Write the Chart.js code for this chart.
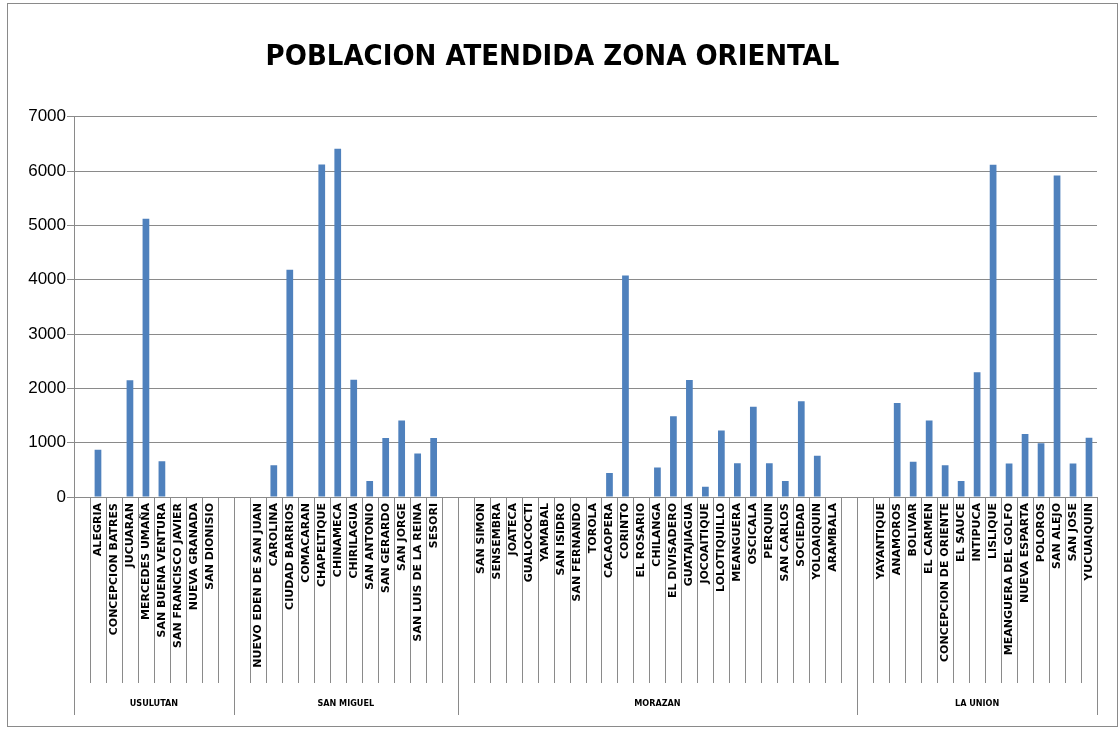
<!DOCTYPE html>
<html>
<head>
<meta charset="utf-8">
<title>Poblacion atendida zona oriental</title>
<script src="https://cdn.jsdelivr.net/npm/chart.js@4"></script>
<style>
  body { margin: 0; background: #fff; }
  canvas { display: block; }
</style>
</head>
<body>
<canvas id="poblacionChart" width="1119" height="730"></canvas>
<script>
// Departamentos (grupos del eje X)
const departamentos = ['USULUTAN', 'SAN MIGUEL', 'MORAZAN', 'LA UNION'];

// Municipios por departamento ('' = columna vacia en la hoja original)
const municipiosUsulutan = ['', 'ALEGRIA', 'CONCEPCION BATRES', 'JUCUARAN', 'MERCEDES UMAÑA', 'SAN BUENA VENTURA',
    'SAN FRANCISCO JAVIER', 'NUEVA GRANADA', 'SAN DIONISIO', ''];
const municipiosSanMiguel = ['', 'NUEVO EDEN DE SAN JUAN', 'CAROLINA', 'CIUDAD BARRIOS', 'COMACARAN', 'CHAPELTIQUE',
    'CHINAMECA', 'CHIRILAGUA', 'SAN ANTONIO', 'SAN GERARDO', 'SAN JORGE', 'SAN LUIS DE LA REINA', 'SESORI', ''];
const municipiosMorazan = ['', 'SAN SIMON', 'SENSEMBRA', 'JOATECA', 'GUALOCOCTI', 'YAMABAL', 'SAN ISIDRO', 'SAN FERNANDO',
    'TOROLA', 'CACAOPERA', 'CORINTO', 'EL ROSARIO', 'CHILANGA', 'EL DIVISADERO', 'GUATAJIAGUA', 'JOCOAITIQUE',
    'LOLOTIQUILLO', 'MEANGUERA', 'OSCICALA', 'PERQUIN', 'SAN CARLOS', 'SOCIEDAD', 'YOLOAIQUIN', 'ARAMBALA', ''];
const municipiosLaUnion = ['', 'YAYANTIQUE', 'ANAMOROS', 'BOLIVAR', 'EL CARMEN', 'CONCEPCION DE ORIENTE', 'EL SAUCE',
    'INTIPUCA', 'LISLIQUE', 'MEANGUERA DEL GOLFO', 'NUEVA ESPARTA', 'POLOROS', 'SAN ALEJO', 'SAN JOSE', 'YUCUAIQUIN'];

// Poblacion atendida por municipio
const poblacionUsulutan = [0, 870, 0, 2150, 5125, 660, 0, 0, 0, 0];
const poblacionSanMiguel = [0, 0, 585, 4185, 0, 6120, 6410, 2160, 295, 1085, 1410, 800, 1085, 0];
const poblacionMorazan = [0, 0, 0, 0, 0, 0, 0, 0, 0, 440, 4080, 0, 545, 1485, 2155, 190, 1225, 620, 1660, 620, 295,
    1765, 760, 0, 0];
const poblacionLaUnion = [0, 0, 1730, 650, 1410, 585, 295, 2295, 6115, 615, 1160, 990, 5920, 615, 1090];

// Ticks del eje Y
const ejeYMin = 0;
const ejeYMax = 7000;
const ejeYPaso = 1000;

const gruposMunicipios = [municipiosUsulutan, municipiosSanMiguel, municipiosMorazan, municipiosLaUnion];
const etiquetas = [].concat(...gruposMunicipios);
const valores = [].concat(poblacionUsulutan, poblacionSanMiguel, poblacionMorazan, poblacionLaUnion);

const colorLinea = '#8a8a8a';

// Fondo blanco y marco del grafico
const marcoGrafico = {
    id: 'marcoGrafico',
    beforeDraw(chart) {
        const ctx = chart.ctx;
        ctx.save();
        ctx.fillStyle = '#ffffff';
        ctx.fillRect(0, 0, chart.width, chart.height);
        ctx.strokeStyle = colorLinea;
        ctx.lineWidth = 1;
        ctx.strokeRect(7.5, 3.5, chart.width - 9, chart.height - 7);
        ctx.restore();
    }
};

// Separadores de municipios y nombres de departamentos debajo del eje X
const gruposDepartamento = {
    id: 'gruposDepartamento',
    afterDraw(chart) {
        const escala = chart.scales.x;
        const ctx = chart.ctx;
        const inicios = [];
        let acumulado = 0;
        gruposMunicipios.forEach(function (g) {
            inicios.push(acumulado);
            acumulado += g.length;
        });
        const total = etiquetas.length;

        ctx.save();
        ctx.strokeStyle = colorLinea;
        ctx.lineWidth = 1;
        for (let i = 0; i <= total; i++) {
            const px = Math.round(escala.getPixelForValue(i - 0.5)) + 0.5;
            const esGrupo = inicios.includes(i) || i === total;
            ctx.beginPath();
            ctx.moveTo(px, escala.top);
            ctx.lineTo(px, esGrupo ? escala.bottom + 32 : escala.bottom);
            ctx.stroke();
        }

        ctx.fillStyle = '#000';
        ctx.font = 'bold 9px "DejaVu Sans Condensed", "DejaVu Sans", sans-serif';
        ctx.textAlign = 'center';
        ctx.textBaseline = 'middle';
        departamentos.forEach(function (nombre, k) {
            const desde = inicios[k];
            const hasta = desde + gruposMunicipios[k].length;
            const centro = (escala.getPixelForValue(desde - 0.5) + escala.getPixelForValue(hasta - 0.5)) / 2;
            ctx.fillText(nombre, centro, escala.bottom + 21);
        });
        ctx.restore();
    }
};

const ctx = document.getElementById('poblacionChart').getContext('2d');
new Chart(ctx, {
    type: 'bar',
    data: {
        labels: etiquetas,
        datasets: [{
            data: valores,
            backgroundColor: '#4f81bd',
            barPercentage: 0.42,
            categoryPercentage: 1.0
        }]
    },
    options: {
        responsive: false,
        animation: false,
        layout: {
            padding: { top: 4, left: 8, right: 22, bottom: 47 }
        },
        plugins: {
            legend: { display: false },
            tooltip: { enabled: false },
            title: {
                display: true,
                text: 'POBLACION ATENDIDA ZONA ORIENTAL',
                color: '#000',
                font: { family: '"DejaVu Sans Condensed", sans-serif', size: 29, weight: 'bold' },
                padding: { top: 36, bottom: 42 }
            }
        },
        scales: {
            x: {
                grid: { display: false, drawTicks: false },
                border: { display: true, color: colorLinea },
                ticks: {
                    autoSkip: false,
                    maxRotation: 90,
                    minRotation: 90,
                    padding: 6,
                    color: '#000',
                    font: { family: '"DejaVu Sans", sans-serif', size: 11, weight: 'bold' }
                },
                afterFit(scale) {
                    scale.height = 186;
                }
            },
            y: {
                min: ejeYMin,
                max: ejeYMax,
                ticks: {
                    stepSize: ejeYPaso,
                    padding: 1,
                    color: '#000',
                    font: { family: '"Liberation Sans", Arial, sans-serif', size: 17 },
                    callback: function (valor) {
                        return String(valor);
                    }
                },
                grid: { color: colorLinea, tickLength: 7 },
                border: { color: colorLinea },
                afterFit(scale) {
                    scale.width = 66;
                }
            }
        }
    },
    plugins: [marcoGrafico, gruposDepartamento]
});
</script>
</body>
</html>
